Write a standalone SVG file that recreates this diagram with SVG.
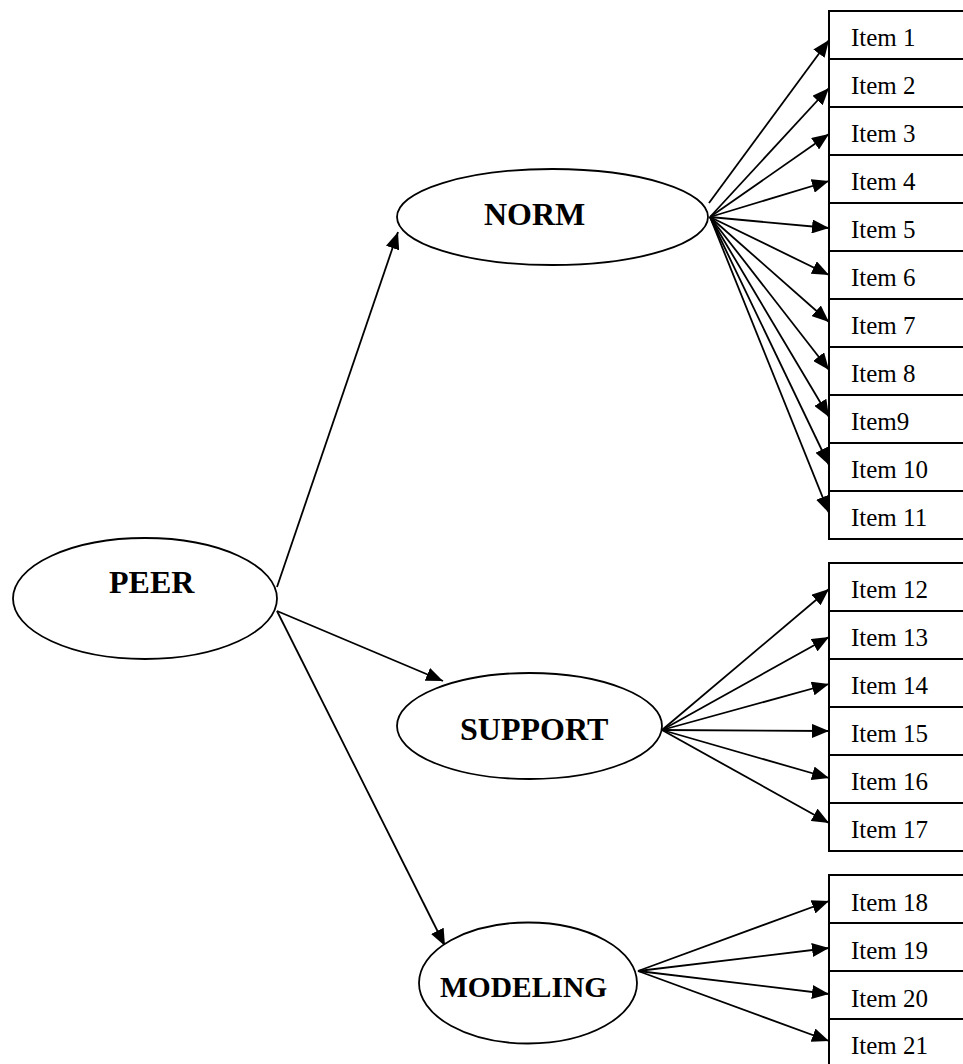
<svg xmlns="http://www.w3.org/2000/svg" width="963" height="1064" viewBox="0 0 963 1064">
  <style>
    .ell { fill: #fff; stroke: #000; stroke-width: 1.8; }
    .box { fill: #fff; stroke: #000; stroke-width: 2; }
    .lbl { font-family: "Liberation Serif", "Times New Roman", serif; font-weight: bold; font-size: 32px; fill: #000; }
    .item { font-family: "Liberation Serif", "Times New Roman", serif; font-size: 25px; fill: #000; }
    .arr { stroke: #000; stroke-width: 1.8; fill: none; marker-end: url(#head); }
  </style>
  <defs>
    <marker id="head" markerUnits="userSpaceOnUse" markerWidth="17" markerHeight="14" refX="17" refY="7" orient="auto">
      <path d="M0,0 L17,7 L0,14 z" fill="#000"/>
    </marker>
  </defs>
  <rect width="963" height="1064" fill="#fff"/>

  <!-- connectors -->
  <g id="connectors">
    <line class="arr" x1="277" y1="587" x2="398" y2="232"/>
    <line class="arr" x1="277" y1="611" x2="443" y2="681"/>
    <line class="arr" x1="277" y1="611" x2="445" y2="946"/>

    <line class="arr" x1="709" y1="203" x2="829" y2="40"/>
    <line class="arr" x1="710" y1="217" x2="829" y2="88"/>
    <line class="arr" x1="710" y1="217" x2="829" y2="134"/>
    <line class="arr" x1="710" y1="217" x2="829" y2="181"/>
    <line class="arr" x1="710" y1="217" x2="829" y2="228"/>
    <line class="arr" x1="710" y1="217" x2="829" y2="275"/>
    <line class="arr" x1="710" y1="217" x2="829" y2="322"/>
    <line class="arr" x1="710" y1="217" x2="829" y2="370"/>
    <line class="arr" x1="710" y1="217" x2="829" y2="417"/>
    <line class="arr" x1="710" y1="217" x2="829" y2="465"/>
    <line class="arr" x1="710" y1="217" x2="829" y2="513"/>

    <line class="arr" x1="662" y1="730" x2="829" y2="589"/>
    <line class="arr" x1="662" y1="730" x2="829" y2="637"/>
    <line class="arr" x1="662" y1="730" x2="829" y2="684"/>
    <line class="arr" x1="662" y1="730" x2="829" y2="731"/>
    <line class="arr" x1="662" y1="730" x2="829" y2="778"/>
    <line class="arr" x1="662" y1="730" x2="829" y2="823"/>

    <line class="arr" x1="638" y1="971" x2="829" y2="901"/>
    <line class="arr" x1="638" y1="971" x2="829" y2="948"/>
    <line class="arr" x1="638" y1="971" x2="829" y2="994"/>
    <line class="arr" x1="638" y1="971" x2="829" y2="1041"/>
  </g>

  <!-- latent nodes -->
  <g id="peer">
    <ellipse class="ell" cx="145" cy="598.5" rx="132" ry="60.5"/>
    <text class="lbl" x="109" y="593">PEER</text>
  </g>
  <g id="norm">
    <ellipse class="ell" cx="552.5" cy="217" rx="155.5" ry="48"/>
    <text class="lbl" x="484" y="225">NORM</text>
  </g>
  <g id="support">
    <ellipse class="ell" cx="529.5" cy="726" rx="132.5" ry="53"/>
    <text class="lbl" x="460" y="740">SUPPORT</text>
  </g>
  <g id="modeling">
    <ellipse class="ell" cx="528" cy="983" rx="109" ry="60.5"/>
    <text class="lbl" x="440" y="997" style="font-size:29.5px">MODELING</text>
  </g>

  <!-- item boxes -->
  <g id="item1"><rect class="box" x="829" y="11" width="160" height="48"/><text class="item" x="851" y="46">Item 1</text></g>
  <g id="item2"><rect class="box" x="829" y="59" width="160" height="48"/><text class="item" x="851" y="94">Item 2</text></g>
  <g id="item3"><rect class="box" x="829" y="107" width="160" height="48"/><text class="item" x="851" y="142">Item 3</text></g>
  <g id="item4"><rect class="box" x="829" y="155" width="160" height="48"/><text class="item" x="851" y="190">Item 4</text></g>
  <g id="item5"><rect class="box" x="829" y="203" width="160" height="48"/><text class="item" x="851" y="238">Item 5</text></g>
  <g id="item6"><rect class="box" x="829" y="251" width="160" height="48"/><text class="item" x="851" y="286">Item 6</text></g>
  <g id="item7"><rect class="box" x="829" y="299" width="160" height="48"/><text class="item" x="851" y="334">Item 7</text></g>
  <g id="item8"><rect class="box" x="829" y="347" width="160" height="48"/><text class="item" x="851" y="382">Item 8</text></g>
  <g id="item9"><rect class="box" x="829" y="395" width="160" height="48"/><text class="item" x="851" y="430">Item9</text></g>
  <g id="item10"><rect class="box" x="829" y="443" width="160" height="48"/><text class="item" x="851" y="478">Item 10</text></g>
  <g id="item11"><rect class="box" x="829" y="491" width="160" height="48"/><text class="item" x="851" y="526">Item 11</text></g>

  <g id="item12"><rect class="box" x="829" y="563" width="160" height="48"/><text class="item" x="851" y="598">Item 12</text></g>
  <g id="item13"><rect class="box" x="829" y="611" width="160" height="48"/><text class="item" x="851" y="646">Item 13</text></g>
  <g id="item14"><rect class="box" x="829" y="659" width="160" height="48"/><text class="item" x="851" y="694">Item 14</text></g>
  <g id="item15"><rect class="box" x="829" y="707" width="160" height="48"/><text class="item" x="851" y="742">Item 15</text></g>
  <g id="item16"><rect class="box" x="829" y="755" width="160" height="48"/><text class="item" x="851" y="790">Item 16</text></g>
  <g id="item17"><rect class="box" x="829" y="803" width="160" height="48"/><text class="item" x="851" y="838">Item 17</text></g>

  <g id="item18"><rect class="box" x="829" y="875" width="160" height="48"/><text class="item" x="851" y="911">Item 18</text></g>
  <g id="item19"><rect class="box" x="829" y="923" width="160" height="48"/><text class="item" x="851" y="959">Item 19</text></g>
  <g id="item20"><rect class="box" x="829" y="971" width="160" height="48"/><text class="item" x="851" y="1007">Item 20</text></g>
  <g id="item21"><rect class="box" x="829" y="1019" width="160" height="48"/><text class="item" x="851" y="1054">Item 21</text></g>
</svg>
